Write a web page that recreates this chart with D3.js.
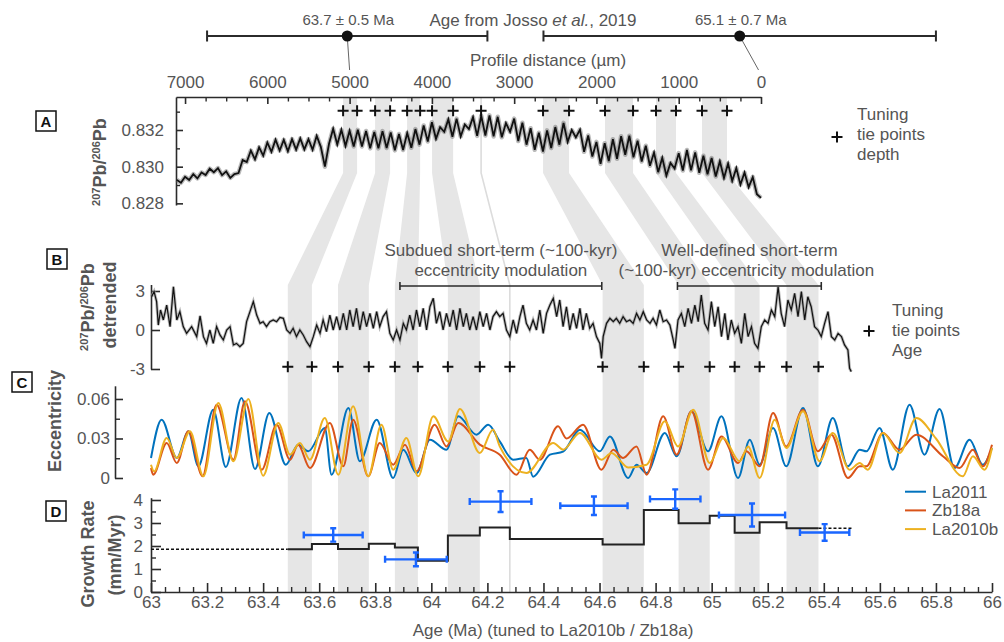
<!DOCTYPE html>
<html>
<head>
<meta charset="utf-8">
<script src="https://cdn.jsdelivr.net/npm/d3@7"></script>
<style>
  body { margin: 0; background: #fff; }
  svg text { font-family: "Liberation Sans", Arial, sans-serif; }
</style>
</head>
<body>
<svg id="chart" width="1004" height="642"></svg>
<script>
// ---- data ----

// tuning tie points: depth along profile (µm) and tuned age (Ma)
const tieDepth = [5079, 4909, 4690, 4508, 4301, 4143, 3998, 3742, 3402, 2649, 2333, 1896, 1555, 1276, 1033, 717, 413];
const tieAge = [63.488, 63.574, 63.667, 63.777, 63.870, 63.952, 64.059, 64.173, 64.280, 64.611, 64.758, 64.882, 64.993, 65.082, 65.171, 65.267, 65.381];
const tieBands = [[0, 1], [2, 3], [4, 5], [6, 7], [8, 8], [9, 10], [11, 12], [13, 14], [15, 16]];

// Josso et al. 2019 ages
const jossoAge = [63.7, 65.1];
const jossoErr = [0.5, 0.7];
const jossoDepth = [5000, 30];

// A: 207Pb/206Pb vs profile distance (sampled every 50 µm from 7100 to 0)
const profileDist = d3.range(7100, -1, -50);
const pbRatio = [
  0.82928, 0.82912, 0.82945, 0.82927, 0.82959, 0.82936, 0.82968, 0.82955, 0.82989, 0.82970,
  0.82992, 0.82954, 0.82974, 0.82939, 0.82960, 0.82965, 0.83036, 0.83025, 0.83088, 0.83040,
  0.83105, 0.83060, 0.83132, 0.83081, 0.83147, 0.83088, 0.83146, 0.83084, 0.83150, 0.83093,
  0.83154, 0.83094, 0.83150, 0.83092, 0.83168, 0.83108, 0.83000, 0.83125, 0.83207, 0.83121,
  0.83201, 0.83113, 0.83196, 0.83110, 0.83201, 0.83110, 0.83195, 0.83100, 0.83189, 0.83100,
  0.83194, 0.83102, 0.83186, 0.83089, 0.83178, 0.83091, 0.83183, 0.83103, 0.83205, 0.83120,
  0.83225, 0.83137, 0.83242, 0.83152, 0.83215, 0.83190, 0.83258, 0.83163, 0.83262, 0.83165,
  0.83230, 0.83205, 0.83270, 0.83168, 0.83278, 0.83170, 0.83280, 0.83165, 0.83272, 0.83160,
  0.83238, 0.83190, 0.83262, 0.83140, 0.83240, 0.83120, 0.83210, 0.83092, 0.83185, 0.83083,
  0.83198, 0.83102, 0.83216, 0.83120, 0.83239, 0.83135, 0.83200, 0.83160, 0.83202, 0.83081,
  0.83170, 0.83055, 0.83135, 0.83015, 0.83128, 0.83031, 0.83150, 0.83043, 0.83166, 0.83065,
  0.83169, 0.83051, 0.83142, 0.83028, 0.83114, 0.83005, 0.83077, 0.82970, 0.83048, 0.82951,
  0.83020, 0.82990, 0.83074, 0.82979, 0.83091, 0.82980, 0.83078, 0.82967, 0.83060, 0.82959,
  0.83047, 0.82946, 0.83029, 0.82938, 0.83017, 0.82922, 0.82992, 0.82902, 0.82968, 0.82888,
  0.82943, 0.82850, 0.82830
];

// B: detrended ratio vs tuned age [Ma, value]
const detrended = [
  [63.002, 2.56], [63.011, 2.95], [63.020, 2.18], [63.026, 0.38], [63.034, 1.54], [63.044, 0.77], [63.056, 1.92], [63.068, 0.26],
  [63.080, 3.33], [63.092, 0.77], [63.103, 1.41], [63.115, 0.26], [63.127, -0.26], [63.145, 0.26], [63.163, -0.51], [63.175, 1.08],
  [63.187, -0.51], [63.198, -1.03], [63.210, 0], [63.222, -1.03], [63.234, 0.26], [63.246, -0.38], [63.258, -0.77], [63.270, 0],
  [63.282, 0.26], [63.294, -1.15], [63.305, -1.03], [63.317, -1.28], [63.329, -1.03], [63.341, 0.64], [63.353, 1.41], [63.365, 2.18],
  [63.377, 1.15], [63.389, 0.51], [63.400, 0.64], [63.412, 0.26], [63.424, 0.64], [63.436, 0.77], [63.448, 0.64], [63.460, 0.97],
  [63.472, 0.90], [63.484, 0], [63.496, -0.26], [63.507, 0.13], [63.519, -0.51], [63.531, 0], [63.543, -0.38], [63.555, -0.90],
  [63.567, -1.28], [63.579, -0.51], [63.591, 0.38], [63.603, -0.26], [63.614, 0.77], [63.626, -0.13], [63.638, 1.15], [63.650, 0],
  [63.662, 1.03], [63.674, 0], [63.686, 1.28], [63.698, 0], [63.709, 1.54], [63.721, 0.26], [63.733, 1.67], [63.745, 0],
  [63.757, 1.41], [63.769, 0.26], [63.781, 1.28], [63.793, 0.13], [63.805, 1.41], [63.816, 0.26], [63.828, 1.03], [63.840, 1.41],
  [63.852, -0.26], [63.864, -0.77], [63.876, 0], [63.888, -0.77], [63.900, 0.51], [63.911, 0], [63.923, 1.15], [63.935, 0],
  [63.947, 1.54], [63.959, 0.26], [63.971, 1.67], [63.983, 0], [63.995, 1.79], [64.007, 2.44], [64.018, 0.51], [64.030, 1.41],
  [64.042, 0], [64.054, 1.28], [64.066, 0.26], [64.078, 1.54], [64.090, 0], [64.102, 1.67], [64.114, 0.26], [64.125, 1.28],
  [64.137, 0], [64.149, 1.03], [64.161, 0], [64.173, 1.41], [64.185, 0.26], [64.197, 1.28], [64.209, 0], [64.220, 1.03],
  [64.232, 1.41], [64.244, 1.03], [64.256, 1.28], [64.268, 0], [64.280, -0.51], [64.292, 0.77], [64.304, -0.26], [64.316, 1.03],
  [64.327, 1.92], [64.339, 0.51], [64.351, 0], [64.363, 0.77], [64.375, 0], [64.387, 1.54], [64.399, -0.26], [64.411, 1.28],
  [64.423, 1.92], [64.435, 2.44], [64.447, 1.03], [64.458, 2.31], [64.470, 0.26], [64.482, 1.79], [64.494, 0], [64.506, 1.28],
  [64.518, 0.13], [64.530, 1.67], [64.541, 0], [64.553, 1.28], [64.565, 0.13], [64.577, 0.51], [64.589, -0.51], [64.601, -1.03],
  [64.607, -2.18], [64.613, -0.51], [64.625, 0.51], [64.637, 0.90], [64.649, 0.64], [64.660, 0.90], [64.672, 0.51], [64.684, 1.03],
  [64.696, 0.64], [64.708, 0.77], [64.720, 0.51], [64.732, 1.28], [64.744, 0.77], [64.756, 1.41], [64.768, 0.77], [64.780, 0.51],
  [64.791, 0.90], [64.803, 0.38], [64.815, 1.54], [64.827, 0.64], [64.839, 0.77], [64.851, 0.38], [64.863, -0.77], [64.869, -1.41],
  [64.880, 0.77], [64.892, 1.28], [64.904, 0.26], [64.916, 1.67], [64.928, 0.51], [64.940, 1.92], [64.952, 0.64], [64.963, 2.69],
  [64.975, 0.51], [64.987, 0], [64.999, 2.18], [65.011, 0.26], [65.023, 1.79], [65.035, -0.51], [65.047, 1.28], [65.058, -0.77],
  [65.070, 0.77], [65.082, -0.26], [65.094, 0.26], [65.106, -1.03], [65.118, 1.28], [65.130, -0.51], [65.142, 0.26], [65.153, -1.03],
  [65.165, -1.41], [65.177, 0.26], [65.189, 0.77], [65.201, 0.51], [65.213, 1.54], [65.225, 1.03], [65.237, 3.33], [65.248, 1.28],
  [65.260, 0.26], [65.272, 2.31], [65.284, 1.54], [65.296, 2.82], [65.308, 1.03], [65.320, 2.95], [65.332, 0.77], [65.343, 2.56],
  [65.355, 1.79], [65.367, 0.26], [65.379, 0], [65.391, -0.51], [65.403, 0.51], [65.415, 1.41], [65.427, -0.51], [65.439, -0.77],
  [65.451, -0.26], [65.463, -0.51], [65.474, -1.15], [65.486, -1.54], [65.492, -2.95], [65.498, -3.2]
];

// C: eccentricity solutions, turning points [Ma, e]
const la2011 = [
  [63.000, 0.0152], [63.038, 0.0443], [63.092, 0.0152], [63.133, 0.0354], [63.169, 0.0089], [63.222, 0.0519], [63.267, 0.0084],
  [63.323, 0.0608], [63.371, 0.0068], [63.422, 0.0494], [63.481, 0.0101], [63.525, 0.0253], [63.561, 0.0203], [63.620, 0.0380],
  [63.644, 0.0025], [63.704, 0.0532], [63.745, 0.0127], [63.805, 0.0443], [63.864, 0.0000], [63.900, 0.0215], [63.947, 0.0038],
  [63.995, 0.0291], [64.054, 0.0215], [64.096, 0.0468], [64.161, 0.0329], [64.203, 0.0405], [64.244, 0.0278], [64.292, 0.0139],
  [64.339, 0.0152], [64.363, 0.0010], [64.423, 0.0177], [64.470, 0.0200], [64.530, 0.0367], [64.601, 0.0203], [64.637, 0.0316],
  [64.702, 0.0000], [64.732, 0.0101], [64.768, 0.0038], [64.833, 0.0342], [64.875, 0.0165], [64.928, 0.0506], [64.987, 0.0203],
  [65.035, 0.0468], [65.094, 0.0000], [65.136, 0.0291], [65.171, 0.0101], [65.219, 0.0380], [65.266, 0.0089], [65.326, 0.0532],
  [65.379, 0.0089], [65.432, 0.0456], [65.486, 0.0089], [65.528, 0.0215], [65.552, 0.0203], [65.599, 0.0380], [65.646, 0.0063],
  [65.706, 0.0557], [65.759, 0.0177], [65.813, 0.0524], [65.866, 0.0076], [65.920, 0.0291], [65.967, 0.0101], [66.000, 0.0228]
];
const zb18a = [
  [63.000, 0.0076], [63.008, 0.0025], [63.056, 0.0266], [63.092, 0.0114], [63.133, 0.0354], [63.184, 0.0013], [63.234, 0.0557],
  [63.294, 0.0139], [63.335, 0.0582], [63.395, 0.0063], [63.448, 0.0405], [63.496, 0.0139], [63.525, 0.0253], [63.567, 0.0076],
  [63.638, 0.0418], [63.686, 0.0089], [63.721, 0.0443], [63.775, 0.0013], [63.816, 0.0266], [63.864, 0.0101], [63.906, 0.0253],
  [63.947, 0.0051], [64.012, 0.0405], [64.054, 0.0240], [64.096, 0.0418], [64.173, 0.0253], [64.244, 0.0177], [64.304, 0.0025],
  [64.351, 0.0215], [64.387, 0.0139], [64.452, 0.0392], [64.482, 0.0300], [64.541, 0.0405], [64.607, 0.0063], [64.649, 0.0215],
  [64.684, 0.0152], [64.732, 0.0240], [64.768, 0.0025], [64.827, 0.0468], [64.875, 0.0177], [64.928, 0.0506], [64.987, 0.0063],
  [65.035, 0.0316], [65.094, 0.0114], [65.124, 0.0203], [65.171, 0.0089], [65.219, 0.0494], [65.266, 0.0240], [65.326, 0.0519],
  [65.379, 0.0203], [65.427, 0.0329], [65.486, 0.0000], [65.528, 0.0089], [65.552, 0.0089], [65.611, 0.0342], [65.670, 0.0215],
  [65.730, 0.0329], [65.825, 0.0165], [65.884, 0.0076], [65.932, 0.0215], [65.967, 0.0089], [66.000, 0.0253]
];
const la2010b = [
  [63.000, 0.0101], [63.011, 0.0051], [63.056, 0.0304], [63.092, 0.0152], [63.139, 0.0354], [63.187, 0.0013], [63.240, 0.0570],
  [63.294, 0.0127], [63.347, 0.0600], [63.400, 0.0018], [63.454, 0.0418], [63.496, 0.0177], [63.531, 0.0266], [63.567, 0.0139],
  [63.620, 0.0456], [63.668, 0.0025], [63.721, 0.0544], [63.775, 0.0013], [63.822, 0.0405], [63.864, 0.0063], [63.911, 0.0304],
  [63.953, 0.0013], [64.007, 0.0468], [64.060, 0.0278], [64.102, 0.0524], [64.173, 0.0190], [64.220, 0.0367], [64.244, 0.0240],
  [64.339, 0.0038], [64.435, 0.0266], [64.470, 0.0215], [64.530, 0.0342], [64.607, 0.0139], [64.643, 0.0190], [64.702, 0.0080],
  [64.768, 0.0101], [64.833, 0.0430], [64.880, 0.0240], [64.934, 0.0519], [64.993, 0.0114], [65.041, 0.0304], [65.100, 0.0127],
  [65.130, 0.0240], [65.171, 0.0000], [65.225, 0.0443], [65.266, 0.0228], [65.326, 0.0506], [65.385, 0.0127], [65.432, 0.0342],
  [65.492, 0.0063], [65.528, 0.0114], [65.557, 0.0063], [65.611, 0.0342], [65.670, 0.0190], [65.730, 0.0456], [65.800, 0.0300],
  [65.896, 0.0013], [65.932, 0.0165], [65.973, 0.0063], [66.000, 0.0228]
];
const eccSeries = [
  { name: 'La2011', color: '#0072BD', values: la2011 },
  { name: 'Zb18a', color: '#D95319', values: zb18a },
  { name: 'La2010b', color: '#EDB120', values: la2010b }
];

// D: growth rate between tie points (mm/Myr)
const growthRate = [1.86, 2.09, 1.87, 2.10, 1.93, 1.36, 2.46, 2.80, 2.30, 2.06, 3.57, 2.99, 3.32, 2.58, 3.03, 2.77];
const growthExtent = [63.0, 65.5];
// independent estimates with error bars
const estAge = [63.65, 63.945, 64.247, 64.58, 64.87, 65.144, 65.403];
const estAgeErr = [0.105, 0.11, 0.11, 0.12, 0.09, 0.118, 0.088];
const estRate = [2.48, 1.42, 3.93, 3.75, 4.04, 3.35, 2.59];
const estRateErr = [0.29, 0.3, 0.45, 0.4, 0.42, 0.5, 0.36];

// annotated modulation spans (Ma)
const modulationSpans = [[63.888, 64.608], [64.878, 65.391]];

// ---- drawing ----
const FONT = '"Liberation Sans", Arial, sans-serif';
const INK = '#2b2b2b';
const TXT = '#555';
const BAND = '#e6e6e6';
const BLUE = '#1a66ff';

const svg = d3.select('#chart');

const xAge = d3.scaleLinear().domain([63, 66]).range([151, 992]);
const xDist = d3.scaleLinear().domain([7110, 0]).range([176, 761]);
const yA = d3.scaleLinear().domain([0.82791, 0.8338]).range([205, 97]);
const yB = d3.scaleLinear().domain([-3, 3.5]).range([369, 284.5]);
const yC = d3.scaleLinear().domain([0, 0.07]).range([478, 385.8]);
const yD = d3.scaleLinear().domain([0, 4.1]).range([592, 497.7]);

const styleAxis = g => {
  g.attr('font-family', null).attr('font-size', null);
  g.select('.domain').attr('stroke', INK).attr('stroke-width', 1.6);
  g.selectAll('.tick line').attr('stroke', INK).attr('stroke-width', 1.6);
  g.selectAll('.tick text').attr('fill', TXT).style('font-size', '17px').style('font-family', FONT);
};
const minorTicks = (g, axis) => {
  g.call(axis.tickFormat('').tickSizeOuter(0));
  g.attr('font-family', null).attr('font-size', null);
  g.select('.domain').remove();
  g.selectAll('.tick line').attr('stroke', INK).attr('stroke-width', 1.4);
};

// tie-point bands linking depth (A) to age (B-D)
const bandTop = 97, slantTop = 173, slantBot = 285, bandBot = 592;
const gBands = svg.append('g');
tieBands.forEach(([i, j]) => {
  const pts = [
    [xDist(tieDepth[i]), bandTop], [xDist(tieDepth[j]), bandTop], [xDist(tieDepth[j]), slantTop],
    [xAge(tieAge[j]), slantBot], [xAge(tieAge[j]), bandBot], [xAge(tieAge[i]), bandBot],
    [xAge(tieAge[i]), slantBot], [xDist(tieDepth[i]), slantTop]
  ];
  if (i === j) {
    gBands.append('path')
      .attr('d', d3.line()([[xDist(tieDepth[i]), bandTop], [xDist(tieDepth[i]), slantTop], [xAge(tieAge[i]), slantBot], [xAge(tieAge[i]), bandBot]]))
      .attr('fill', 'none').attr('stroke', '#dcdcdc').attr('stroke-width', 1.6);
  } else {
    gBands.append('path').attr('d', d3.line()(pts) + 'Z').attr('fill', BAND);
  }
});

const plus = (g, x, y) => {
  g.append('path').attr('d', `M${x - 5.5},${y}H${x + 5.5}M${x},${y - 5.5}V${y + 5.5}`)
    .attr('stroke', '#111').attr('stroke-width', 2);
};

// ---- Josso ages on top ----
const gJ = svg.append('g');
jossoAge.forEach((a, i) => {
  const x0 = xAge(a - jossoErr[i]), x1 = xAge(a + jossoErr[i]), xc = xAge(a);
  gJ.append('line').attr('x1', xc).attr('y1', 36).attr('x2', xDist(jossoDepth[i])).attr('y2', 70)
    .attr('stroke', '#666').attr('stroke-width', 1);
  gJ.append('path').attr('d', `M${x0},36H${x1}M${x0},30.5V41.5M${x1},30.5V41.5`)
    .attr('stroke', INK).attr('stroke-width', 2).attr('fill', 'none');
  gJ.append('circle').attr('cx', xc).attr('cy', 36).attr('r', 5.5).attr('fill', '#111');
  gJ.append('text').attr('x', xc + 1).attr('y', 25).attr('text-anchor', 'middle')
    .style('font-size', '15px').attr('fill', TXT).text(`${a} ± ${jossoErr[i]} Ma`);
});
const title = gJ.append('text').attr('x', 533).attr('y', 26).attr('text-anchor', 'middle')
  .style('font-size', '17px').attr('fill', TXT);
title.append('tspan').text('Age from Josso ');
title.append('tspan').style('font-style', 'italic').text('et al.');
title.append('tspan').text(', 2019');

// ---- panel A ----
const gTop = svg.append('g').attr('transform', 'translate(0,97)');
gTop.call(d3.axisTop(xDist).tickValues(d3.range(0, 7001, 1000)).tickSize(-7).tickSizeOuter(0).tickPadding(9).tickFormat(d3.format('d')));
styleAxis(gTop);
minorTicks(svg.append('g').attr('transform', 'translate(0,97)'),
  d3.axisTop(xDist).tickValues(d3.range(250, 7001, 250).filter(d => d % 1000)).tickSize(-4.5));
svg.append('text').attr('x', 548).attr('y', 66).attr('text-anchor', 'middle')
  .style('font-size', '17px').attr('fill', TXT).text('Profile distance (µm)');

const gAy = svg.append('g').attr('transform', 'translate(176,0)');
gAy.call(d3.axisLeft(yA).tickValues([0.828, 0.830, 0.832]).tickSize(-7).tickSizeOuter(0).tickPadding(12).tickFormat(d3.format('.3f')));
styleAxis(gAy);
minorTicks(svg.append('g').attr('transform', 'translate(176,0)'), d3.axisLeft(yA).tickValues([0.829, 0.831, 0.833]).tickSize(-4));

const lineA = d3.line().x((d, i) => xDist(profileDist[i])).y(d => yA(d));
svg.append('path').attr('d', lineA(pbRatio)).attr('fill', 'none').attr('stroke', '#666').attr('stroke-width', 4.5)
  .attr('stroke-linejoin', 'round').attr('opacity', 0.45);
svg.append('path').attr('d', lineA(pbRatio)).attr('fill', 'none').attr('stroke', '#111').attr('stroke-width', 1.8);

tieDepth.forEach(d => plus(svg, xDist(d), 110.7));

// ---- panel B ----
const gBy = svg.append('g').attr('transform', 'translate(151,0)');
gBy.call(d3.axisLeft(yB).tickValues([-3, 0, 3]).tickSize(-9).tickSizeOuter(0).tickPadding(6).tickFormat(String));
styleAxis(gBy);

const lineB = d3.line().x(d => xAge(d[0])).y(d => yB(d[1]));
svg.append('path').attr('d', lineB(detrended)).attr('fill', 'none').attr('stroke', '#9a9a9a').attr('stroke-width', 3).attr('opacity', 0.7);
svg.append('path').attr('d', lineB(detrended)).attr('fill', 'none').attr('stroke', '#111').attr('stroke-width', 1.2);

tieAge.forEach(a => plus(svg, xAge(a), 366.7));

const modText = [
  ['Subdued short-term (~100-kyr)', 'eccentricity modulation'],
  ['Well-defined short-term', '(~100-kyr) eccentricity modulation']
];
modulationSpans.forEach(([a0, a1], i) => {
  const x0 = xAge(a0), x1 = xAge(a1), xm = (x0 + x1) / 2;
  svg.append('path').attr('d', `M${x0},286H${x1}M${x0},282V290M${x1},282V290`)
    .attr('stroke', INK).attr('stroke-width', 1.6).attr('fill', 'none');
  modText[i].forEach((t, k) => {
    svg.append('text').attr('x', xm - (i === 1 && k === 1 ? 3 : 0)).attr('y', 256 + k * 20).attr('text-anchor', 'middle')
      .style('font-size', '17px').attr('fill', TXT).text(t);
  });
});

// ---- panel C ----
const gCy = svg.append('g').attr('transform', 'translate(115,0)');
gCy.call(d3.axisLeft(yC).tickValues([0, 0.03, 0.06]).tickSize(-8).tickSizeOuter(0).tickPadding(5).tickFormat(d => d === 0 ? '0' : d3.format('.2f')(d)));
styleAxis(gCy);
minorTicks(svg.append('g').attr('transform', 'translate(115,0)'), d3.axisLeft(yC).tickValues([0.015, 0.045]).tickSize(-5));

const lineC = d3.line().curve(d3.curveMonotoneX).x(d => xAge(d[0])).y(d => yC(d[1]));
eccSeries.forEach(s => {
  svg.append('path').attr('d', lineC(s.values)).attr('fill', 'none').attr('stroke', s.color).attr('stroke-width', 2);
});

// ---- panel D ----
const gDy = svg.append('g').attr('transform', 'translate(151,0)');
gDy.call(d3.axisLeft(yD).tickValues([0, 1, 2, 3, 4]).tickSize(-10).tickSizeOuter(0).tickPadding(8).tickFormat(String));
styleAxis(gDy);
minorTicks(svg.append('g').attr('transform', 'translate(151,0)'), d3.axisLeft(yD).tickValues([0.5, 1.5, 2.5, 3.5]).tickSize(-5));

const gDx = svg.append('g').attr('transform', 'translate(0,592)');
gDx.call(d3.axisBottom(xAge).tickValues(d3.range(0, 16).map(i => 63 + i * 0.2)).tickSize(-9).tickSizeOuter(0).tickPadding(4)
  .tickFormat(d => String(+d.toFixed(1))));
styleAxis(gDx);
minorTicks(svg.append('g').attr('transform', 'translate(0,592)'),
  d3.axisBottom(xAge).tickValues(d3.range(0, 61).map(i => 63 + i * 0.05).filter((d, i) => i % 4)).tickSize(-5));

const stepPts = tieAge.slice(0, -1).map((a, i) => [a, growthRate[i]]);
stepPts.push([tieAge[tieAge.length - 1], growthRate[growthRate.length - 1]]);
const lineD = d3.line().curve(d3.curveStepAfter).x(d => xAge(d[0])).y(d => yD(d[1]));
svg.append('path').attr('d', lineD([[growthExtent[0], growthRate[0]], [tieAge[0], growthRate[0]]]))
  .attr('fill', 'none').attr('stroke', '#111').attr('stroke-width', 1.4).attr('stroke-dasharray', '3,2');
svg.append('path').attr('d', lineD([stepPts[stepPts.length - 1], [growthExtent[1], growthRate[growthRate.length - 1]]]))
  .attr('fill', 'none').attr('stroke', '#111').attr('stroke-width', 1.4).attr('stroke-dasharray', '3,2');
svg.append('path').attr('d', lineD(stepPts)).attr('fill', 'none').attr('stroke', '#222').attr('stroke-width', 2);

estAge.forEach((a, i) => {
  const x0 = xAge(a - estAgeErr[i]), x1 = xAge(a + estAgeErr[i]), xc = xAge(a);
  const y0 = yD(estRate[i] - estRateErr[i]), y1 = yD(estRate[i] + estRateErr[i]), yc = yD(estRate[i]);
  svg.append('path')
    .attr('d', `M${x0},${yc}H${x1}M${x0},${yc - 3.5}V${yc + 3.5}M${x1},${yc - 3.5}V${yc + 3.5}M${xc},${y0}V${y1}M${xc - 3},${y0}H${xc + 3}M${xc - 3},${y1}H${xc + 3}`)
    .attr('stroke', BLUE).attr('stroke-width', 2.4).attr('fill', 'none');
});

svg.append('text').attr('x', 553).attr('y', 636).attr('text-anchor', 'middle')
  .style('font-size', '17px').attr('fill', TXT).text('Age (Ma) (tuned to La2010b / Zb18a)');

// legend for eccentricity solutions
eccSeries.forEach((s, i) => {
  const y = 491.7 + i * 18.7;
  svg.append('line').attr('x1', 905).attr('x2', 926).attr('y1', y).attr('y2', y).attr('stroke', s.color).attr('stroke-width', 2);
  svg.append('text').attr('x', 932).attr('y', y + 6).style('font-size', '17px').attr('fill', TXT).text(s.name);
});

// tie-point legends
plus(svg, 837, 137);
['Tuning', 'tie points', 'depth'].forEach((t, k) => {
  svg.append('text').attr('x', 857).attr('y', 120 + k * 20).style('font-size', '17px').attr('fill', TXT).text(t);
});
plus(svg, 869, 331);
['Tuning', 'tie points', 'Age'].forEach((t, k) => {
  svg.append('text').attr('x', 892).attr('y', 316 + k * 20).style('font-size', '17px').attr('fill', TXT).text(t);
});

// ---- y labels ----
const yLabel = (x, y, parts) => {
  const t = svg.append('text').attr('transform', `translate(${x},${y}) rotate(-90)`).attr('text-anchor', 'middle')
    .attr('dominant-baseline', 'central').style('font-size', '18px').style('font-weight', 'bold').attr('fill', TXT);
  parts.forEach(p => {
    if (p.sup) t.append('tspan').style('font-size', '11px').attr('baseline-shift', '35%').text(p.sup);
    else t.append('tspan').text(p.t);
  });
};
const pbParts = [{ sup: '207' }, { t: 'Pb/' }, { sup: '206' }, { t: 'Pb' }];
yLabel(100, 162, pbParts);
yLabel(88, 307, pbParts);
yLabel(110, 305, [{ t: 'detrended' }]);
yLabel(55, 421, [{ t: 'Eccentricity' }]);
yLabel(88, 554, [{ t: 'Growth Rate' }]);
yLabel(115, 555, [{ t: '(mm/Myr)' }]);

// ---- panel letters ----
[['A', 36, 111], ['B', 47, 249], ['C', 12, 372], ['D', 46, 501]].forEach(([l, x, y]) => {
  svg.append('rect').attr('x', x).attr('y', y).attr('width', 20).attr('height', 20)
    .attr('fill', '#fff').attr('stroke', '#111').attr('stroke-width', 1.5);
  svg.append('text').attr('x', x + 10).attr('y', y + 15.5).attr('text-anchor', 'middle')
    .style('font-size', '15px').style('font-weight', 'bold').attr('fill', '#111').text(l);
});
</script>
</body>
</html>
